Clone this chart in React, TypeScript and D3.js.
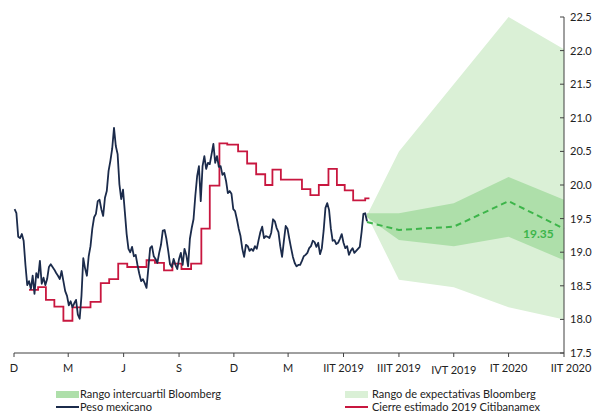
import React from "react";
import * as d3 from "d3";

// ---- data ----
const parse = d3.timeParse("%Y-%m-%d");

// Quarter ticks of the time axis
const tickDates = ["2017-12-01", "2018-03-01", "2018-06-01", "2018-09-01", "2018-12-01", "2019-03-01", "2019-06-01", "2019-09-01", "2019-12-01", "2020-03-01", "2020-06-01"];
const tickLabels = ["D", "M", "J", "S", "D", "M", "IIT 2019", "IIIT 2019", "IVT 2019", "IT 2020", "IIT 2020"];
const yTicks = [17.5, 18.0, 18.5, 19.0, 19.5, 20.0, 20.5, 21.0, 21.5, 22.0, 22.5];

// Peso mexicano (MXN per USD), one observation every 3 days from 2017-12-02
const pesoStart = "2017-12-02";
const pesoStepDays = 3;
const pesoValues = [
  19.64, 19.58, 19.23, 19.21, 19.27, 19.17, 18.81, 18.51, 18.57, 18.45,
  18.65, 18.38, 18.69, 18.62, 18.87, 18.53, 18.62, 18.51, 18.60, 18.78,
  18.82, 18.78, 18.74, 18.69, 18.65, 18.60, 18.72, 18.57, 18.42, 18.35,
  18.21, 18.27, 18.18, 18.24, 18.29, 18.07, 18.01, 18.35, 18.91, 18.76,
  18.65, 18.94, 19.09, 19.35, 19.52, 19.57, 19.76, 19.78, 19.64, 19.54,
  19.81, 19.91, 20.21, 20.36, 20.54, 20.85, 20.58, 20.46, 20.01, 19.79,
  19.93, 19.60, 19.27, 19.05, 19.00, 19.08, 18.94, 18.96, 18.81, 18.68,
  18.57, 18.60, 18.54, 18.47, 18.76, 19.06, 19.09, 18.94, 18.90, 18.84,
  18.99, 19.11, 19.32, 19.33, 19.20, 19.02, 18.82, 18.78, 18.90, 18.81,
  18.75, 18.90, 18.99, 18.81, 19.05, 18.96, 18.79, 19.20, 19.36, 19.49,
  19.84, 20.13, 20.28, 19.76, 20.28, 20.43, 20.24, 20.33, 20.31, 20.46,
  20.61, 20.33, 20.43, 20.27, 20.28, 20.15, 20.18, 20.06, 19.88, 19.91,
  19.87, 19.64, 19.61, 19.49, 19.35, 19.24, 19.05, 18.93, 19.11, 19.09,
  19.02, 19.05, 19.02, 19.09, 19.05, 19.18, 19.30, 19.38, 19.21, 19.24,
  19.23, 19.21, 19.29, 19.49, 19.46, 19.36, 19.30, 19.09, 18.93, 19.17,
  19.39, 19.35, 19.20, 19.06, 18.93, 18.84, 18.79, 18.81, 18.81, 18.87,
  18.94, 18.96, 18.99, 19.06, 19.09, 19.17, 19.15, 19.08, 19.14, 18.97,
  19.06, 19.32, 19.66, 19.73, 19.63, 19.35, 19.17, 19.18, 19.12, 19.14,
  19.20, 19.27, 19.14, 19.06, 19.09, 18.96, 19.02, 19.06, 18.99, 19.02,
  19.05, 19.08, 19.30, 19.57, 19.58, 19.46,
];

// Citibanamex survey: estimated 2019 close (step series)
const citiDates = [
  "2017-12-26", "2018-01-10", "2018-01-23", "2018-02-06", "2018-02-21", "2018-03-08",
  "2018-04-07", "2018-04-24", "2018-05-08", "2018-05-23", "2018-06-07", "2018-07-09",
  "2018-07-23", "2018-08-07", "2018-08-21", "2018-09-05", "2018-09-21", "2018-10-08",
  "2018-10-22", "2018-11-07", "2018-11-20", "2018-12-08", "2018-12-23", "2019-01-07",
  "2019-01-22", "2019-02-03", "2019-02-17", "2019-03-24", "2019-04-07", "2019-04-21",
  "2019-05-07", "2019-05-21", "2019-06-03", "2019-06-17", "2019-07-07", "2019-07-14",
];
const citiValues = [
  18.44, 18.48, 18.29, 18.19, 17.98, 18.18,
  18.26, 18.54, 18.60, 18.83, 18.78, 18.88,
  18.84, 18.73, 18.83, 18.75, 18.83, 19.35,
  19.99, 20.62, 20.60, 20.50, 20.32, 20.16,
  20.00, 20.23, 20.08, 19.94, 19.85, 20.00,
  20.24, 20.00, 19.92, 19.77, 19.80, 19.80,
];

// Bloomberg forecasts by quarter
const forecastDates = ["2019-07-10", "2019-09-01", "2019-12-01", "2020-03-01", "2020-06-01"];
const forecastMedian = [19.45, 19.33, 19.38, 19.76, 19.35];
const iqrLow = [19.52, 19.18, 19.09, 19.23, 18.88];
const iqrHigh = [19.58, 19.58, 19.73, 20.12, 19.78];
const rangeLow = [19.55, 18.59, 18.48, 18.18, 18.0];
const rangeHigh = [19.55, 20.5, 21.5, 22.5, 22.02];

// ---- styles ----
const W = 592;
const H = 417;
const FONT = "Lato, 'Open Sans', sans-serif";
const NAVY = "#1b2b4b";
const RED = "#c8173f";
const GREEN_DARK = "#aedfaa";
const GREEN_LIGHT = "#daf0d6";
const GREEN_LINE = "#3db54a";
const AXIS = "#404040";

export default function App() {
  const x = d3
    .scaleTime()
    .domain([parse("2017-12-01")!, parse("2020-06-01")!])
    .range([14, 564]);
  const y = d3.scaleLinear().domain([17.5, 22.5]).range([353, 17]);

  const start = parse(pesoStart)!;
  const peso = pesoValues.map((v, i) => ({ date: d3.timeDay.offset(start, i * pesoStepDays), v }));
  const citi = citiDates.map((d, i) => ({ date: parse(d)!, v: citiValues[i] }));
  const fc = forecastDates.map((d, i) => ({
    date: parse(d)!,
    med: forecastMedian[i],
    qlo: iqrLow[i],
    qhi: iqrHigh[i],
    rlo: rangeLow[i],
    rhi: rangeHigh[i],
  }));

  const line = d3
    .line<{ date: Date; v: number }>()
    .x((d) => x(d.date))
    .y((d) => y(d.v));
  const stepLine = d3
    .line<{ date: Date; v: number }>()
    .x((d) => x(d.date))
    .y((d) => y(d.v))
    .curve(d3.curveStepAfter);
  type F = (typeof fc)[number];
  const rangeArea = d3
    .area<F>()
    .x((d) => x(d.date))
    .y0((d) => y(d.rlo))
    .y1((d) => y(d.rhi));
  const iqrArea = d3
    .area<F>()
    .x((d) => x(d.date))
    .y0((d) => y(d.qlo))
    .y1((d) => y(d.qhi));
  const medLine = d3
    .line<F>()
    .x((d) => x(d.date))
    .y((d) => y(d.med));

  const last = fc[fc.length - 1];
  const axisY = y(17.5);
  const axisX = x(parse("2020-06-01")!);

  return (
    <svg
      width={W}
      height={H}
      style={{ position: "absolute", left: 0, top: 0, background: "#fff" }}
      fontFamily={FONT}
    >
      {/* forecast bands */}
      <path d={rangeArea(fc) ?? ""} fill={GREEN_LIGHT} />
      <path d={iqrArea(fc) ?? ""} fill={GREEN_DARK} />
      <path
        d={medLine(fc) ?? ""}
        fill="none"
        stroke={GREEN_LINE}
        strokeWidth={2}
        strokeDasharray="6 4"
      />
      <text
        x={x(last.date) - 41}
        y={y(last.med) + 9}
        fill={GREEN_LINE}
        fontSize={12}
        fontWeight="bold"
      >
        {last.med.toFixed(2)}
      </text>

      {/* historical series */}
      <path d={stepLine(citi) ?? ""} fill="none" stroke={RED} strokeWidth={1.8} />
      <path d={line(peso) ?? ""} fill="none" stroke={NAVY} strokeWidth={1.8} strokeLinejoin="round" />

      {/* x axis */}
      <line x1={x(parse(tickDates[0])!)} x2={axisX} y1={axisY} y2={axisY} stroke={AXIS} strokeWidth={1} />
      {tickDates.map((d, i) => {
        const tx = x(parse(d)!);
        const lastTick = i === tickDates.length - 1;
        return (
          <g key={d}>
            <line x1={tx} x2={tx} y1={axisY} y2={axisY + 4} stroke={AXIS} />
            <text
              x={lastTick ? tx + 7 : tx}
              y={axisY + 19 + (tickLabels[i] === "IVT 2019" ? 2 : 0)}
              textAnchor="middle"
              fontSize={11}
              fill="#222"
            >
              {tickLabels[i]}
            </text>
          </g>
        );
      })}

      {/* y axis (right) */}
      <line x1={axisX} x2={axisX} y1={y(22.5)} y2={axisY} stroke={AXIS} strokeWidth={1} />
      {yTicks.map((t) => (
        <g key={t}>
          <line x1={axisX - 4} x2={axisX} y1={y(t)} y2={y(t)} stroke={AXIS} />
          <text x={axisX + 6} y={y(t) + 4} fontSize={11} fill="#222">
            {d3.format(".1f")(t)}
          </text>
        </g>
      ))}

      {/* legend */}
      <g fontSize={11} fill="#222">
        <rect x={56} y={391} width={23} height={7} fill={GREEN_DARK} />
        <text x={80} y={398}>Rango intercuartil Bloomberg</text>
        <rect x={345} y={391} width={23} height={7} fill={GREEN_LIGHT} />
        <text x={372} y={398}>Rango de expectativas Bloomberg</text>
        <line x1={56} x2={79} y1={407} y2={407} stroke={NAVY} strokeWidth={2} />
        <text x={80} y={411}>Peso mexicano</text>
        <line x1={345} x2={368} y1={407} y2={407} stroke={RED} strokeWidth={2} />
        <text x={372} y={411}>Cierre estimado 2019 Citibanamex</text>
      </g>
    </svg>
  );
}
